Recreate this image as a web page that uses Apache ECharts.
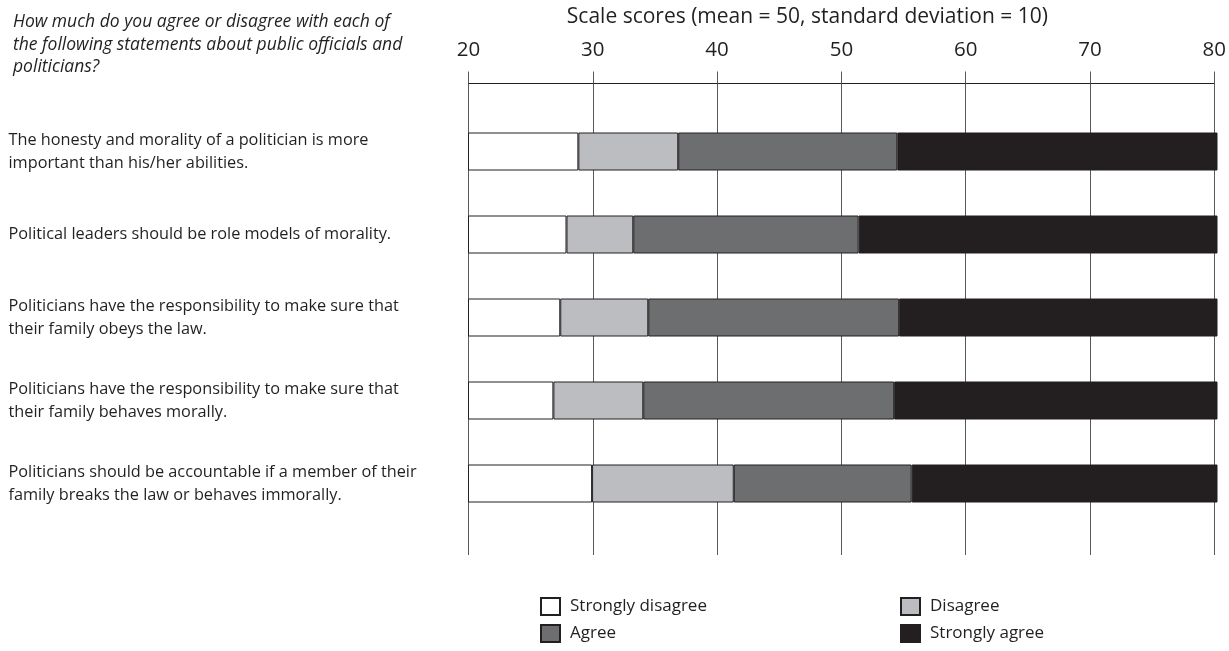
<!DOCTYPE html>
<html>
<head>
<meta charset="utf-8">
<script src="https://cdn.jsdelivr.net/npm/echarts@6/dist/echarts.min.js"></script>
<style>
html,body{margin:0;padding:0;background:#fff;}
#chart{width:1229px;height:651px;}
</style>
</head>
<body>
<div id="chart"></div>
<script>
// ---- data ----
const questionText = 'How much do you agree or disagree with each of\nthe following statements about public officials and\npoliticians?';
const axisTitle = 'Scale scores (mean = 50, standard deviation = 10)';
const statements = [
  'The honesty and morality of a politician is more\nimportant than his/her abilities.',
  'Political leaders should be role models of morality.',
  'Politicians have the responsibility to make sure that\ntheir family obeys the law.',
  'Politicians have the responsibility to make sure that\ntheir family behaves morally.',
  'Politicians should be accountable if a member of their\nfamily breaks the law or behaves immorally.'
];
const categoryNames = ['Strongly disagree', 'Disagree', 'Agree', 'Strongly agree'];
// thresholds on the scale (where each response category ends)
const stronglyDisagreeEnd = [28.8, 27.85, 27.35, 26.8, 29.9];
const disagreeEnd = [36.8, 33.2, 34.4, 34.0, 41.25];
const agreeEnd = [54.35, 51.25, 54.5, 54.1, 55.5];
const stronglyAgreeEnd = [80, 80, 80, 80, 80];
const scaleMin = 20, scaleMax = 80, scaleStep = 10;

// ---- build ----
const segs = [
  stronglyDisagreeEnd,
  disagreeEnd.map((v, i) => v - stronglyDisagreeEnd[i]),
  agreeEnd.map((v, i) => v - disagreeEnd[i]),
  stronglyAgreeEnd.map((v, i) => v - agreeEnd[i])
];
const colors = ['#ffffff', '#bcbdc0', '#6d6e70', '#231f20'];
const FONT = 'Open Sans';
const TXT = '#231f20';

// legend placement (2 x 2)
const legendPos = [
  {left: 535, top: 592},  // Strongly disagree
  {left: 895, top: 592},  // Disagree
  {left: 535, top: 619},  // Agree
  {left: 895, top: 619}   // Strongly agree
];

const chart = echarts.init(document.getElementById('chart'), null, {renderer: 'canvas'});
const option = {
  animation: false,
  backgroundColor: '#ffffff',
  title: {
    text: questionText,
    left: 8, top: 6,
    textStyle: {fontFamily: FONT, fontSize: 17.5, fontStyle: 'italic', fontWeight: 'normal', color: TXT, lineHeight: 22.5}
  },
  legend: categoryNames.map((n, k) => ({
    data: [n],
    left: legendPos[k].left, top: legendPos[k].top,
    itemWidth: 19, itemHeight: 17, icon: 'rect',
    textStyle: {fontFamily: FONT, fontSize: 17, color: TXT, padding: [0, 0, 0, 5]}
  })),
  grid: [
    {left: 468.5, right: 11.5, top: 83.5, bottom: 96, containLabel: false},
    {left: 468.5, right: 11.5, top: 110, bottom: 126, containLabel: false}
  ],
  xAxis: [
    {
      gridIndex: 0, type: 'value', position: 'top',
      min: scaleMin, max: scaleMax, interval: scaleStep,
      name: axisTitle, nameLocation: 'middle', nameGap: 56,
      nameTextStyle: {fontFamily: FONT, fontSize: 21, color: TXT, padding: [0, 68, 0, 0]},
      axisLine: {show: true, onZero: false, lineStyle: {color: '#231f20', width: 1}},
      axisTick: {show: true, inside: false, length: 12, lineStyle: {color: '#58595b', width: 1}},
      axisLabel: {fontFamily: FONT, fontSize: 20.5, color: TXT, margin: 23},
      splitLine: {show: true, lineStyle: {color: '#58595b', width: 1}}
    },
    {
      gridIndex: 1, type: 'value', min: scaleMin, max: scaleMax,
      show: false
    }
  ],
  yAxis: [
    {
      gridIndex: 0, type: 'value', min: 0, max: 1, show: false
    },
    {
      gridIndex: 1, type: 'category', data: statements, inverse: true,
      axisLine: {show: false}, axisTick: {show: false}, splitLine: {show: false},
      axisLabel: {
        align: 'left', margin: 460, fontFamily: FONT, fontSize: 16.3, color: TXT, lineHeight: 23
      }
    }
  ],
  series: categoryNames.map((name, k) => ({
    name: name,
    type: 'bar',
    xAxisIndex: 1, yAxisIndex: 1,
    stack: 'total',
    barWidth: 38,
    data: segs[k],
    itemStyle: {color: colors[k], borderColor: '#231f20', borderWidth: 1},
    emphasis: {disabled: true}
  }))
};
chart.setOption(option);
</script>
</body>
</html>
